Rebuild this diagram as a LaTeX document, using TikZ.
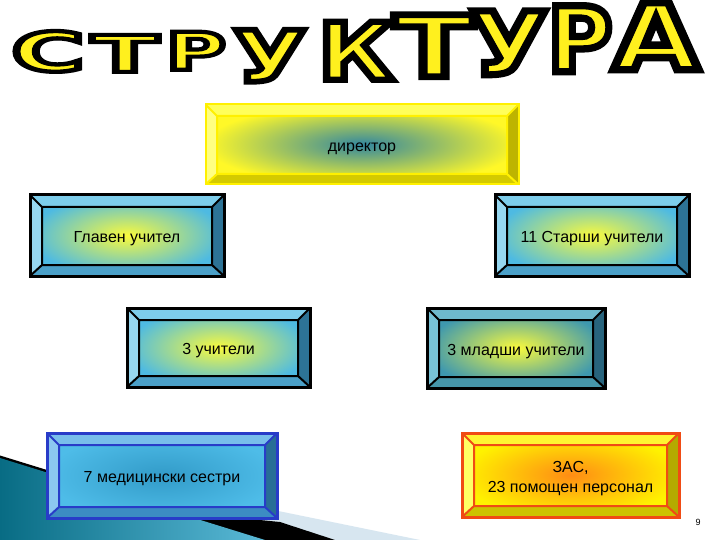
\documentclass[tikz,border=0pt]{standalone}
\usepackage{fontspec}
\setmainfont{Liberation Sans}
\newfontfamily\titlefont{DejaVu Sans}
\usepackage{graphicx}
\usepackage{xcolor}
\usetikzlibrary{positioning,calc}

% colours
\definecolor{titleyel}{RGB}{255,240,30}
\definecolor{titleshd}{RGB}{150,150,150}
\definecolor{dirin}{RGB}{50,135,160}
\definecolor{dirout}{RGB}{255,248,40}
\definecolor{dirtop}{RGB}{255,255,90}
\definecolor{dirleft}{RGB}{255,255,130}
\definecolor{dirright}{RGB}{190,180,0}
\definecolor{dirbot}{RGB}{212,202,0}
\definecolor{dirframe}{RGB}{255,240,0}
\definecolor{bluin}{RGB}{250,250,60}
\definecolor{bluout}{RGB}{78,186,226}
\definecolor{blutop}{RGB}{125,205,235}
\definecolor{bluleft}{RGB}{150,215,240}
\definecolor{bluright}{RGB}{45,115,150}
\definecolor{blubot}{RGB}{75,160,200}
\definecolor{tealout}{RGB}{62,152,175}
\definecolor{tealtop}{RGB}{110,185,205}
\definecolor{tealleft}{RGB}{120,195,215}
\definecolor{tealright}{RGB}{40,100,125}
\definecolor{tealbot}{RGB}{70,150,170}
\definecolor{medin}{RGB}{50,155,200}
\definecolor{medout}{RGB}{78,188,232}
\definecolor{medtop}{RGB}{120,190,235}
\definecolor{medleft}{RGB}{140,200,240}
\definecolor{medright}{RGB}{40,110,150}
\definecolor{medbot}{RGB}{60,140,195}
\definecolor{medframe}{RGB}{40,60,200}
\definecolor{zasin}{RGB}{255,140,20}
\definecolor{zasout}{RGB}{255,242,0}
\definecolor{zastop}{RGB}{255,245,50}
\definecolor{zasleft}{RGB}{255,255,100}
\definecolor{zasright}{RGB}{180,170,0}
\definecolor{zasbot}{RGB}{205,195,0}
\definecolor{zasframe}{RGB}{240,75,20}
\definecolor{wedgeteal}{RGB}{8,108,132}
\definecolor{wedgelight}{RGB}{90,185,215}
\definecolor{wedgegrey}{RGB}{215,230,240}

% letter with black outline
\newcommand\titleglyph[1]{\textcolor{titleyel}{\special{pdf:literal direct 0 0 0 RG 0.8 w 2 Tr}#1\special{pdf:literal direct 0 Tr}}}

\tikzset{
  bevel top/.initial=white, bevel left/.initial=white,
  bevel right/.initial=gray, bevel bottom/.initial=gray,
  frame col/.initial=black,
  bevelbox/.style={rectangle, inner sep=0pt, align=center, line width=3pt,
    font=\fontsize{16}{20}\selectfont, text height=14pt, text depth=0pt,
    path picture={
      \coordinate (nw) at (path picture bounding box.north west);
      \coordinate (ne) at (path picture bounding box.north east);
      \coordinate (sw) at (path picture bounding box.south west);
      \coordinate (se) at (path picture bounding box.south east);
      \coordinate (inw) at ([shift={(12pt,-12pt)}]nw);
      \coordinate (ine) at ([shift={(-12pt,-12pt)}]ne);
      \coordinate (isw) at ([shift={(12pt,11pt)}]sw);
      \coordinate (ise) at ([shift={(-12pt,11pt)}]se);
      \fill[fill=\pgfkeysvalueof{/tikz/bevel top}] (nw) -- (ne) -- (ine) -- (inw) -- cycle;
      \fill[fill=\pgfkeysvalueof{/tikz/bevel left}] (nw) -- (inw) -- (isw) -- (sw) -- cycle;
      \fill[fill=\pgfkeysvalueof{/tikz/bevel right}] (ne) -- (ine) -- (ise) -- (se) -- cycle;
      \fill[fill=\pgfkeysvalueof{/tikz/bevel bottom}] (sw) -- (isw) -- (ise) -- (se) -- cycle;
      \draw[draw=\pgfkeysvalueof{/tikz/frame col}, line width=2pt]
        (inw) rectangle (ise) (nw) -- (inw) (ne) -- (ine) (sw) -- (isw) (se) -- (ise);
      \draw[draw=\pgfkeysvalueof{/tikz/frame col}, line width=3pt] (nw) rectangle (se);
    }},
  yelbox/.style={bevelbox, inner color=dirin, outer color=dirout, draw=dirframe,
    line width=1pt, frame col=dirframe, bevel top=dirtop, bevel left=dirleft,
    bevel right=dirright, bevel bottom=dirbot},
  blubox/.style={bevelbox, inner color=bluin, outer color=bluout, draw=black,
    bevel top=blutop, bevel left=bluleft, bevel right=bluright, bevel bottom=blubot},
  tealbox/.style={bevelbox, inner color=bluin, outer color=tealout, draw=black,
    bevel top=tealtop, bevel left=tealleft, bevel right=tealright, bevel bottom=tealbot},
  medbox/.style={bevelbox, inner color=medin, outer color=medout, draw=medframe,
    frame col=medframe, bevel top=medtop, bevel left=medleft, bevel right=medright,
    bevel bottom=medbot},
  zasbox/.style={bevelbox, inner color=zasin, outer color=zasout, draw=zasframe,
    frame col=zasframe, bevel top=zastop, bevel left=zasleft, bevel right=zasright,
    bevel bottom=zasbot, text height=35pt, text depth=0pt},
}

\begin{document}
\begin{tikzpicture}[x=1pt,y=-1pt]
  \fill[white] (0,0) rectangle (720,540);
  \useasboundingbox (0,0) rectangle (720,540);

  % wedge in the lower left corner
  \fill[wedgegrey] (200,495) -- (420,540) -- (200,540) -- cycle;
  \fill[black] (0,455.5) -- (47,470) -- (200,514) -- (280,522) -- (335,540) -- (0,540) -- cycle;
  \shade[left color=wedgeteal, right color=wedgelight] (0,458) -- (265,540) -- (0,540) -- cycle;

  % title
  \foreach \ch/\cx/\by/\w/\h [count=\i] in {С/48/72/73/40, Т/125/72/67/37,
      Р/196/70/60/38, У/270/82/73/52, К/356/80/76/58, Т/434/77/80/62,
      У/509/75/78/64, Р/580/72/65/66, А/656/70/86/67} {
    \node[inner sep=0pt, anchor=south] (s\i) at (\cx+3,\by+2)
      {\resizebox{\w pt}{\h pt}{\titlefont\bfseries\textcolor{titleshd}{\ch}}};
    \node[inner sep=0pt, anchor=south] (l\i) at (\cx,\by)
      {\resizebox{\w pt}{\h pt}{\titlefont\bfseries\titleglyph{\ch}}};
  }

  % boxes
  \node[yelbox, minimum width=314, minimum height=81] (dir) at (362,144.5) {директор};
  \node[blubox, minimum width=194, minimum height=81] (glav) at (127,235.5) {Главен учител};
  \node[blubox, minimum width=194, minimum height=81] (star) at (592,235.5) {11 Старши учители};
  \node[blubox, minimum width=183, minimum height=79] (uch) at (218.5,347.5) {3 учители};
  \node[tealbox, minimum width=178, minimum height=80] (mlad) at (516,348) {3 младши учители};
  \node[medbox, minimum width=230, minimum height=85] (med) at (162,475.5) {7 медицински сестри};
  \node[zasbox, minimum width=217, minimum height=84] (zas) at (570.5,475) {ЗАС,\\23 помощен персонал};

  \node[font=\fontsize{9}{10}\selectfont] (pnum) at (698,522) {9};
\end{tikzpicture}
\end{document}
